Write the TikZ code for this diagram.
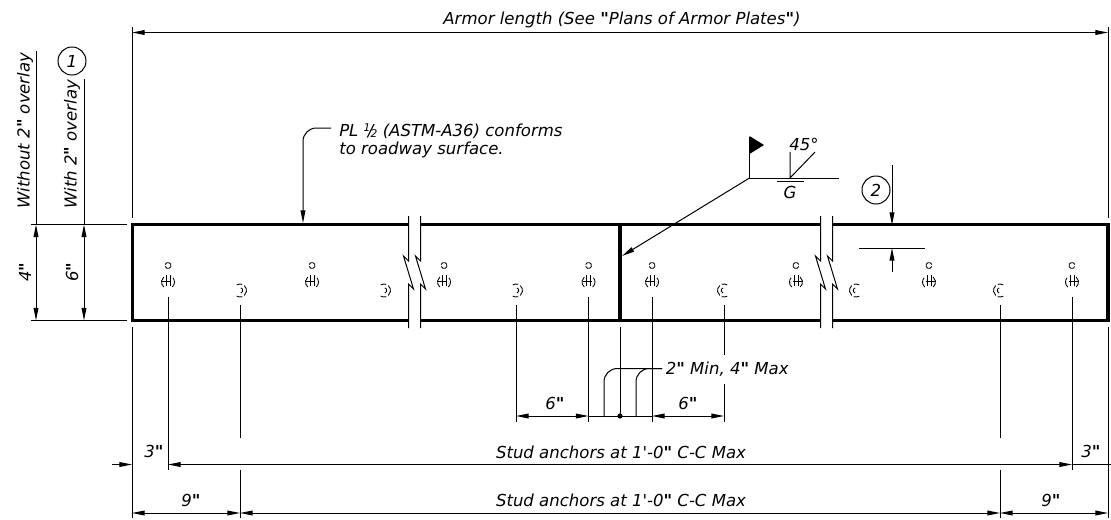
\documentclass[tikz,border=0pt]{standalone}
\usepackage{fontspec}
\newfontfamily\drawfont{DejaVu Sans}
\usetikzlibrary{arrows.meta}

\tikzset{
  every node/.style={font=\fontsize{12.4pt}{13.5pt}\drawfont\itshape,inner sep=0pt},
  thin line/.style={line width=0.75pt},
  heavy line/.style={line width=2.6pt},
  dim/.style={thin line,{Triangle[length=9.5pt,width=3.6pt]}-{Triangle[length=9.5pt,width=3.6pt]}},
  tip/.style={thin line,-{Triangle[length=9.5pt,width=3.6pt]}},
  stud line/.style={line width=0.65pt}
}
\newcommand{\qm}{\textbf{"}}
\newcommand{\half}{\raisebox{3.5pt}{\fontsize{8pt}{8pt}\selectfont 1}\kern-2pt/\kern-2pt\raisebox{-1pt}{\fontsize{8pt}{8pt}\selectfont 2}}

\begin{document}
\begin{tikzpicture}[x=0.75pt,y=-0.75pt]

% angles run clockwise here, the y axis points down
\newcommand{\studarc}[5] % [cx][cy][start][end][r]
{
 \draw ([shift=(#3:#5)] #1,#2) arc(#3:#4:#5);
}
\newcommand{\studpair}[2] % [x][mirror]
{
 \begin{scope}[shift={(#1,0)},xscale=#2,stud line]
  \studarc{0}{265.5}{200}{520}{3}
  \draw (-2,275) -- (-2,286);
  \draw (2,275) -- (2,286);
  \draw (-6,281.5) -- (3,281.5);
  \studarc{0}{282}{-40}{50}{6.5}
  \studarc{0}{282}{130}{230}{6.5}
 \end{scope}
}
\newcommand{\studone}[2] % [x][mirror]
{
 \begin{scope}[shift={(#1,0)},xscale=#2,stud line]
  \studarc{0}{290.5}{-50}{50}{6.5}
  \studarc{0}{290.5}{240}{290}{6.5}
  \studarc{0}{290.5}{70}{120}{6.5}
  \studarc{0}{290.5}{-70}{70}{2.8}
 \end{scope}
}

\useasboundingbox (0,0) rectangle (1111,519);

% plate
\draw[heavy line] (408,224.5) -- (132.5,224.5) -- (132.5,320.5) -- (408,320.5);
\draw[heavy line] (421,224.5) -- (820,224.5);
\draw[heavy line] (421,320.5) -- (820,320.5);
\draw[heavy line] (833,224.5) -- (1108,224.5) -- (1108,320.5) -- (833,320.5);
\draw[heavy line] (620,224.5) -- (620,320.5);

% breaks
\foreach \x in {408.5,420.5,820.5,832.5}
 \draw[thin line] (\x,216) -- (\x,261) -- ++(-5,-5) -- ++(10,33) -- ++(-5,-5) -- (\x,328);

% studs
\foreach \x in {168,312,444,588.5,652}
 {\studpair{\x}{1}}
\foreach \x in {796,929,1072}
 {\studpair{\x}{-1}}
\foreach \x in {240,384,516}
 {\studone{\x}{1}}
\foreach \x in {724,856,1000}
 {\studone{\x}{-1}}

% overall length
\draw[thin line] (132,27) -- (132,218);
\draw[thin line] (1108,27) -- (1108,218);
\draw[dim] (132,32.5) -- (1108,32.5);
\node (armor) at (622,20) {Armor length (See \qm Plans of Armor Plates\qm)};

% depth at the left
\draw[thin line] (31,224.5) -- (127,224.5);
\draw[thin line] (31,320.5) -- (127,320.5);
\draw[thin line] (36,51) -- (36,224.5);
\draw[thin line] (84,79) -- (84,224.5);
\draw[dim] (36,224.5) -- (36,320.5);
\draw[dim] (84,224.5) -- (84,320.5);
\node[rotate=90,anchor=west] (without) at (25,209) {Without 2\qm\ overlay};
\node[rotate=90,anchor=west] (with) at (72,209) {With 2\qm\ overlay};
\node[rotate=90] (four) at (25,272) {4\qm};
\node[rotate=90] (six) at (72,272) {6\qm};
\node[draw,thin line,circle,minimum size=21pt] (one) at (72,61) {1};

% plate note
\node[anchor=west,align=left] (pl) at (339,141) {PL \half\ (ASTM-A36) conforms\\to roadway surface.};
\draw[tip,rounded corners=10pt] (331,128) -- (303,128) -- (303,223);

% weld symbol
\fill (749.5,136) -- (764,145) -- (749.5,154) -- cycle;
\draw[thin line] (749.5,137) -- (749.5,178) -- (839,178);
\draw[tip] (749.5,178) -- (622,256);
\draw[thin line] (790,152) -- (790,178) -- (815,152);
\draw[thin line] (777,181.5) -- (804,181.5);
\node (angle) at (804,144) {45°};
\node (groove) at (790,192) {G};

% section mark
\node[draw,thin line,circle,minimum size=21pt] (two) at (876,190) {2};
\draw[tip] (892,165) -- (892,225);
\draw[tip] (892,272) -- (892,248);
\draw[thin line] (859,248) -- (925,248);

% witness lines
\draw[thin line] (132,327) -- (132,518);
\draw[thin line] (1108,327) -- (1108,518);
\foreach \x in {240,1000}
{
 \draw[thin line] (\x,305) -- (\x,438);
 \draw[thin line] (\x,470) -- (\x,518);
}
\foreach \x in {168,1072}
 \draw[thin line] (\x,297) -- (\x,470);
\draw[thin line] (516,305) -- (516,422);
\draw[thin line] (724,305) -- (724,355);
\draw[thin line] (724,384) -- (724,422);
\draw[thin line] (588.5,297) -- (588.5,422);
\draw[thin line] (652,297) -- (652,422);
\draw[thin line] (620,327) -- (620,416);

% gap dimensions
\draw[dim] (516,416) -- (588.5,416);
\draw[dim] (652,416) -- (724,416);
\draw[thin line] (588.5,416) -- (652,416);
\fill (620,416) circle (2.6);
\draw[thin line,rounded corners=10pt] (604,416) -- (604,368.5) -- (662,368.5);
\draw[thin line,rounded corners=10pt] (636,416) -- (636,368.5) -- (662,368.5);
\node[anchor=west] (minmax) at (665.5,369) {2\qm\ Min, 4\qm\ Max};
\node (six a) at (555,403) {6\qm};
\node (six b) at (688,403) {6\qm};

% bottom dimensions
\draw[tip] (112,464.5) -- (132,464.5);
\draw[dim] (168,464.5) -- (1072,464.5);
\draw[thin line] (1072,464.5) -- (1111,464.5);
\draw[dim] (132,513) -- (240,513);
\draw[dim] (240,513) -- (1000,513);
\draw[dim] (1000,513) -- (1108,513);
\node (three a) at (154,451) {3\qm};
\node (three b) at (1091,451) {3\qm};
\node (nine a) at (191,500) {9\qm};
\node (nine b) at (1051,500) {9\qm};
\node (stud a) at (621,452) {Stud anchors at 1'-0\qm\ C-C Max};
\node (stud b) at (621,500) {Stud anchors at 1'-0\qm\ C-C Max};

\end{tikzpicture}
\end{document}
